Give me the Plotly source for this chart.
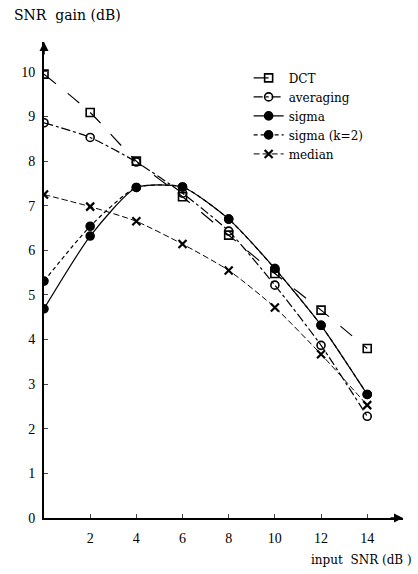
import plotly.graph_objects as go

x_snr = [0, 2, 4, 6, 8, 10, 12, 14]
dct = [9.95, 9.09, 8.00, 7.20, 6.34, 5.48, 4.66, 3.80]
averaging = [8.86, 8.53, 7.98, 7.28, 6.43, 5.22, 3.87, 2.28]
sigma = [4.69, 6.32, 7.41, 7.42, 6.70, 5.59, 4.32, 2.77]
sigma_k2 = [5.31, 6.54, 7.41, 7.42, 6.70, 5.59, 4.32, 2.77]
median = [7.25, 6.98, 6.65, 6.14, 5.55, 4.72, 3.67, 2.53]

y_ticks = list(range(0, 11))
x_ticks = [2, 4, 6, 8, 10, 12, 14]

FONT = "Liberation Serif"
WIDE = "DejaVu Serif"
fig = go.Figure()

def add(name, y, symbol, dash, width=1.2, size=8, mlw=1.6):
    fig.add_trace(go.Scatter(
        x=x_snr, y=y, name=name, mode="lines+markers",
        line=dict(color="black", width=width, dash=dash, shape="spline", smoothing=0.6),
        marker=dict(symbol=symbol, size=size, color="black",
                    line=dict(color="black", width=mlw)),
    ))

add("DCT", dct, "square-open", "longdash")
add("averaging", averaging, "circle-open", "dashdot")
add("sigma", sigma, "circle", "solid")
add("sigma (k=2)", sigma_k2, "circle", "4px,3px")
add("median", median, "x-thin", "6px,3px", 1.0, 8, 2.2)

fig.update_layout(
    width=418, height=574,
    margin=dict(l=44, r=15, t=42, b=56),
    paper_bgcolor="white", plot_bgcolor="white",
    font=dict(family=FONT, size=13, color="black"),
    showlegend=True,
    legend=dict(x=0.57, y=0.955, xanchor="left", yanchor="top",
                bgcolor="rgba(0,0,0,0)", font=dict(family=WIDE, size=12),
                itemwidth=30, tracegroupgap=0),
    xaxis=dict(range=[0, 15.55], tickvals=x_ticks, ticks="inside", ticklen=4,
               showline=True, linecolor="black", linewidth=2, showgrid=False,
               zeroline=False, tickfont=dict(family=FONT, size=14),
               ticklabelstandoff=6),
    yaxis=dict(range=[0, 10.67], tickvals=y_ticks, ticks="inside", ticklen=4,
               showline=True, linecolor="black", linewidth=2, showgrid=False,
               zeroline=False, tickfont=dict(family=FONT, size=14),
               ticklabelstandoff=4),
    annotations=[
        dict(text="SNR  gain (dB)", xref="paper", yref="paper", x=-0.089, y=1.057,
             xanchor="left", yanchor="middle", showarrow=False,
             font=dict(family=WIDE, size=14)),
        dict(text="input  SNR (dB )", xref="paper", yref="paper", x=1.03, y=-0.089,
             xanchor="right", yanchor="middle", showarrow=False,
             font=dict(family=WIDE, size=12)),
        dict(x=15.55, y=0, xref="x", yref="y", ax=-14, ay=0, axref="pixel", ayref="pixel",
             showarrow=True, arrowhead=2, arrowsize=1.2, arrowwidth=1.5, arrowcolor="black", text=""),
        dict(x=0, y=10.67, xref="x", yref="y", ax=0, ay=14, axref="pixel", ayref="pixel",
             showarrow=True, arrowhead=2, arrowsize=1.2, arrowwidth=1.5, arrowcolor="black", text=""),
    ],
)

fig.write_html("out.html")
